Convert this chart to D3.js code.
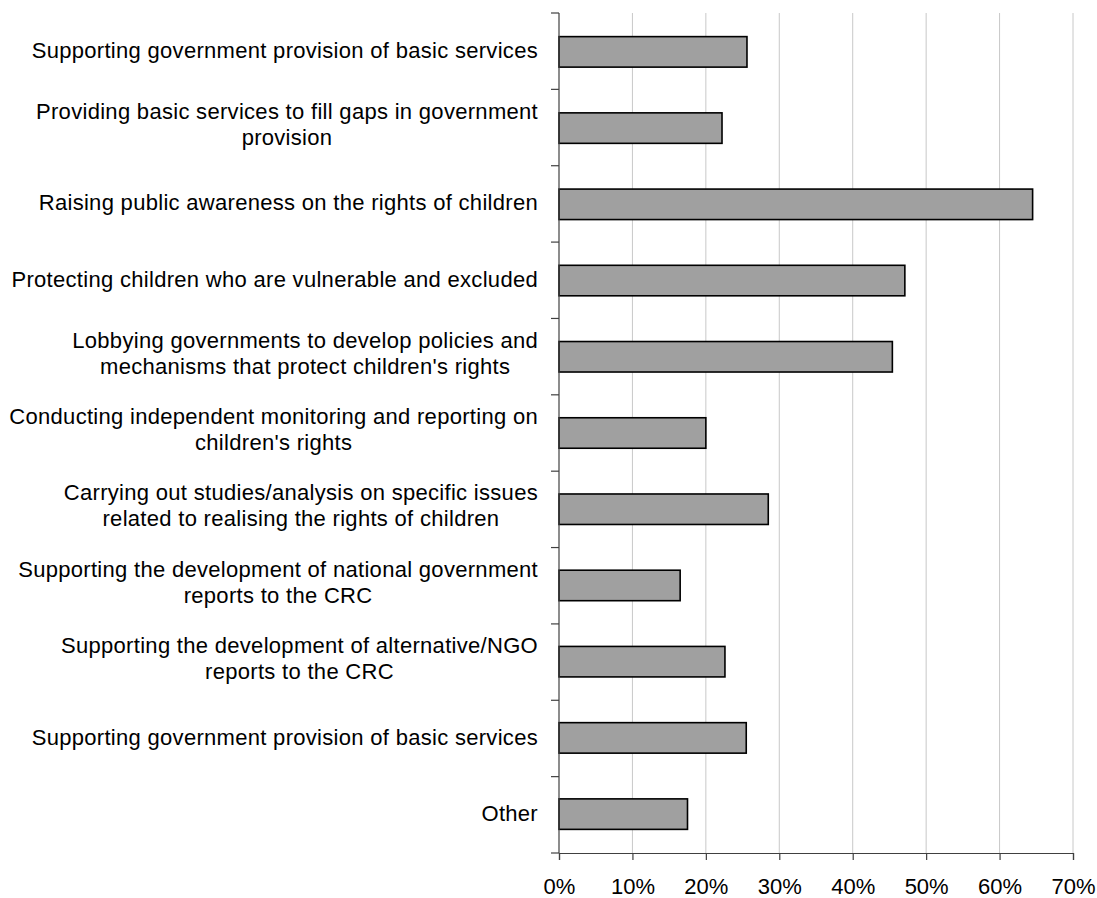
<!DOCTYPE html>
<html><head><meta charset="utf-8">
<script src="https://cdn.jsdelivr.net/npm/d3@7"></script>
<style>body{margin:0;background:#fff}svg{display:block}text{font-family:"Liberation Sans",Arial,sans-serif;fill:#000}</style>
</head><body><svg id="c" width="1097" height="898"></svg>
<script>
const categories = [
  ["Supporting government provision of basic services"],
  ["Providing basic services to fill gaps in government","provision"],
  ["Raising public awareness on the rights of children"],
  ["Protecting children who are vulnerable and excluded"],
  ["Lobbying governments to develop policies and","mechanisms that protect children's rights"],
  ["Conducting independent monitoring and reporting on","children's rights"],
  ["Carrying out studies/analysis on specific issues","related to realising the rights of children"],
  ["Supporting the development of national government","reports to the CRC"],
  ["Supporting the development of alternative/NGO","reports to the CRC"],
  ["Supporting government provision of basic services"],
  ["Other"]
];
const values = [25.6, 22.2, 64.5, 47.1, 45.4, 20.0, 28.5, 16.5, 22.6, 25.5, 17.5];
const xTicks = [0,10,20,30,40,50,60,70];

const svg = d3.select("#c");
const L = 559, R = 1073, T = 13, B = 853;
const x = d3.scaleLinear().domain([0,70]).range([L,R]);
const y = d3.scaleBand().domain(d3.range(categories.length)).range([T,B]).paddingInner(0.6).paddingOuter(0.31);
const band = (B-T)/categories.length;

// gridlines
svg.append("g").selectAll("line").data(xTicks.slice(1)).join("line")
  .attr("x1",d=>x(d)).attr("x2",d=>x(d)).attr("y1",T).attr("y2",B)
  .attr("stroke","#c8c8c8").attr("stroke-width",1);

// bars
svg.append("g").selectAll("rect").data(values).join("rect")
  .attr("x",x(0)).attr("y",(d,i)=>y(i)).attr("width",d=>x(d)-x(0)).attr("height",y.bandwidth())
  .attr("fill","#a0a0a0").attr("stroke","#000").attr("stroke-width",1.6);

// y axis line and ticks
const ax = svg.append("g").attr("stroke","#404040").attr("stroke-width",1.2);
ax.append("line").attr("x1",L).attr("x2",L).attr("y1",T).attr("y2",B);
ax.selectAll("line.t").data(d3.range(categories.length+1)).join("line").attr("class","t")
  .attr("x1",L-8).attr("x2",L).attr("y1",i=>T+i*band).attr("y2",i=>T+i*band);
// x axis
const xa = svg.append("g").attr("transform",`translate(0,${B})`)
  .call(d3.axisBottom(x).tickValues(xTicks).tickFormat(d=>d+"%").tickSize(7).tickPadding(18));
xa.select(".domain").attr("stroke","#404040").attr("stroke-width",1.2);
xa.selectAll(".tick line").attr("stroke","#404040").attr("stroke-width",1.2);
xa.selectAll("text").attr("font-size","22px").attr("font-family","Liberation Sans, Arial, sans-serif").attr("fill","#000");

// category labels
const lab = svg.append("g");
categories.forEach((lines,i)=>{
  const cy = T + (i+0.5)*band;
  const g = lab.append("g");
  const n = lines.length;
  const ts = lines.map((s,k)=> g.append("text").attr("font-size","22px").attr("letter-spacing","0.3px")
      .attr("y", n===1 ? cy + 6.5 : cy + 4 + (k-(n-1)/2)*26).text(s));
  const w = d3.max(ts, t=>t.node().getComputedTextLength());
  const right = 538;
  ts.forEach(t=>t.attr("text-anchor","middle").attr("x", right - w/2));
});
</script></body></html>
